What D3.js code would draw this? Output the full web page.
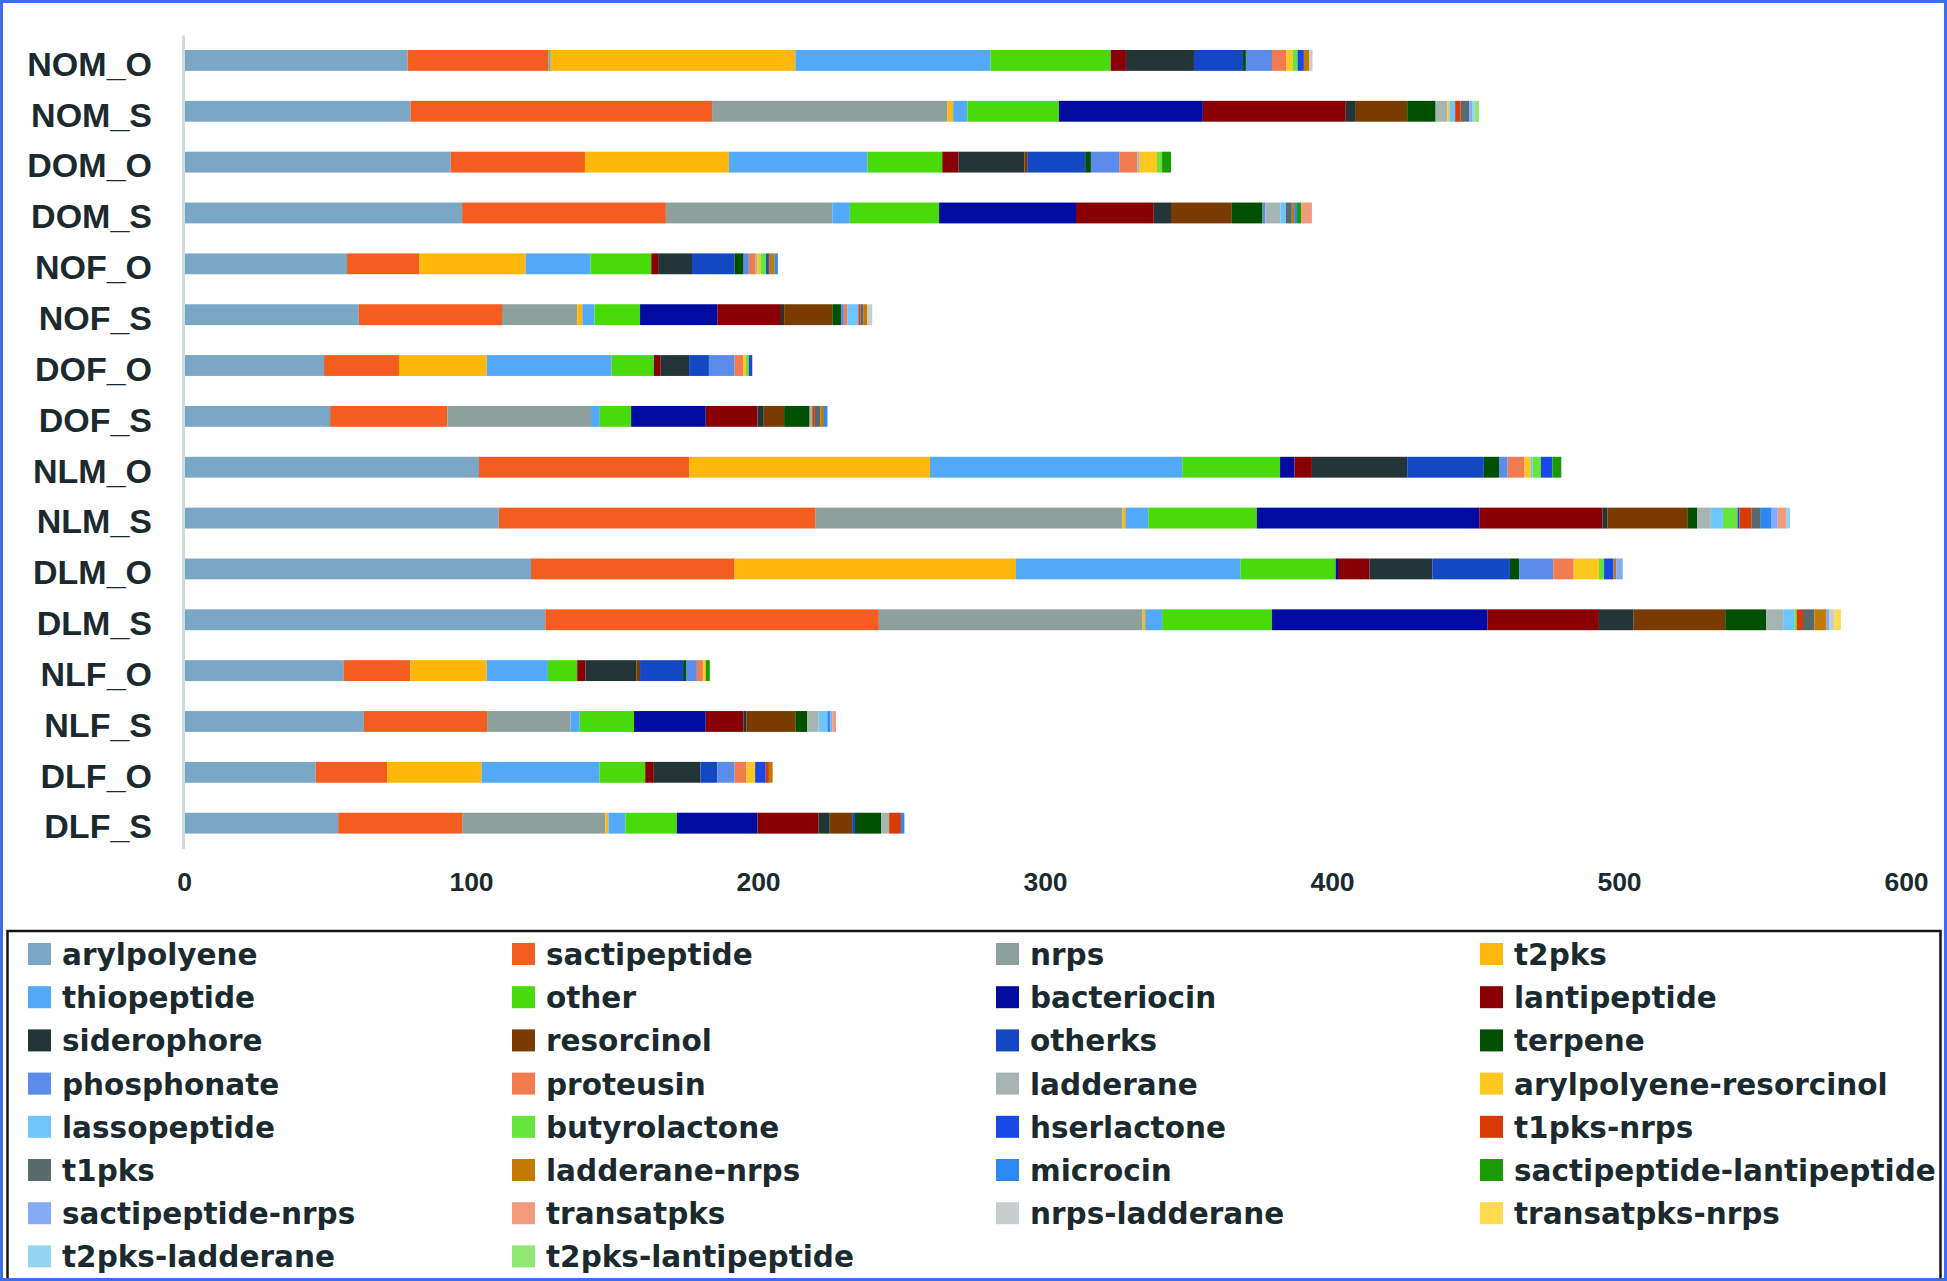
<!DOCTYPE html>
<html>
<head>
<meta charset="utf-8">
<script src="https://cdn.jsdelivr.net/npm/d3@7"></script>
<style>
  html, body { margin: 0; padding: 0; background: #ffffff; }
  svg { display: block; }
</style>
</head>
<body>
<svg id="chart" width="1947" height="1281"></svg>
<script>
// ---------------- DATA ----------------
const categories = ["NOM_O","NOM_S","DOM_O","DOM_S","NOF_O","NOF_S","DOF_O","DOF_S",
                    "NLM_O","NLM_S","DLM_O","DLM_S","NLF_O","NLF_S","DLF_O","DLF_S"];

const seriesNames = ["arylpolyene","sactipeptide","nrps","t2pks","thiopeptide","other","bacteriocin",
  "lantipeptide","siderophore","resorcinol","otherks","terpene","phosphonate","proteusin","ladderane",
  "arylpolyene-resorcinol","lassopeptide","butyrolactone","hserlactone","t1pks-nrps","t1pks",
  "ladderane-nrps","microcin","sactipeptide-lantipeptide","sactipeptide-nrps","transatpks",
  "nrps-ladderane","transatpks-nrps","t2pks-ladderane","t2pks-lantipeptide"];

const seriesColors = ["#7ba7c6","#f45d20","#8ea09c","#ffb70c","#52a9f8","#48da0a","#000ca0",
  "#880003","#243538","#7a3b00","#1347c3","#005000","#5b8cec","#f27b4f","#a6b5b2",
  "#ffc81f","#6dc5fb","#68e43c","#1848e8","#d93a06","#596a6c",
  "#c27a02","#2c88f2","#1b9b06","#85abf7","#f29a7c",
  "#c6cfcd","#ffd94e","#93d5f3","#8fe873"];

const arylpolyene   = [77.9, 78.9, 92.9, 96.9, 56.8, 60.9, 48.8, 50.9, 102.8, 109.7, 120.9, 125.9, 55.7, 62.7, 45.9, 53.7];
const sactipeptide  = [49.0, 105.1, 46.8, 71.0, 25.1, 49.9, 26.1, 40.9, 73.2, 110.4, 70.9, 116.2, 23.1, 42.9, 24.9, 43.2];
const nrps          = [0.9, 82.0, 0, 58.0, 0, 26.2, 0, 50.0, 0, 106.8, 0, 91.9, 0, 29.1, 0, 49.9];
const t2pks         = [85.2, 2.0, 50.2, 0, 37.1, 1.8, 30.6, 0, 83.9, 1.1, 98.1, 0.9, 26.7, 0, 32.9, 1.1];
const thiopeptide   = [68.0, 5.0, 48.2, 6.1, 22.6, 4.2, 43.5, 3.1, 87.9, 8.0, 78.3, 5.9, 21.3, 3.2, 41.1, 5.9];
const other         = [41.9, 31.8, 26.1, 31.1, 21.2, 15.9, 14.7, 10.9, 34.1, 37.8, 33.1, 38.3, 10.2, 18.9, 15.9, 17.9];
const bacteriocin   = [0, 50.2, 0, 47.7, 0, 26.9, 0, 26.0, 5.0, 77.5, 0.8, 75.1, 0, 25.0, 0, 28.1];
const lantipeptide  = [5.3, 49.8, 5.7, 27.1, 2.4, 22.2, 2.4, 18.0, 6.1, 42.9, 11.0, 38.8, 2.9, 13.2, 3.0, 21.2];
const siderophore   = [23.7, 3.5, 22.9, 6.0, 11.8, 1.1, 9.9, 2.2, 33.2, 1.8, 21.9, 12.1, 17.8, 0.9, 16.2, 4.0];
const resorcinol    = [0, 17.9, 1.0, 21.2, 0, 16.8, 0, 7.1, 0, 28.0, 0, 31.9, 1.2, 17.1, 0, 7.8];
const otherks       = [17.1, 0, 20.2, 0, 14.8, 0, 6.9, 0, 26.7, 0, 27.0, 0, 15.0, 0, 5.9, 1.0];
const terpene       = [1.0, 9.9, 2.0, 10.7, 3.2, 3.0, 0, 8.9, 5.3, 3.2, 3.2, 14.3, 1.0, 4.1, 0, 9.1];
const phosphonate   = [9.1, 0, 10.0, 1.0, 1.8, 1.0, 8.9, 0, 3.0, 0, 11.9, 0, 3.8, 0, 6.0, 0];
const proteusin     = [5.0, 0, 6.2, 0, 2.2, 1.2, 3.1, 0, 5.9, 0, 7.1, 0, 2.1, 0, 4.1, 0];
const ladderane     = [0, 4.1, 0.8, 5.2, 0.7, 0, 0, 0.9, 0, 4.8, 0, 5.9, 0, 4.0, 0, 2.8];
const arylpolyeneResorcinol = [2.2, 0.7, 6.0, 0, 1.2, 0, 0.9, 0, 2.1, 0, 8.8, 0, 1.0, 0, 3.1, 0];
const lassopeptide  = [0, 2.0, 0, 1.9, 0, 3.9, 0, 0, 0.7, 4.2, 0, 3.9, 0, 3.1, 0, 0];
const butyrolactone = [1.7, 0, 1.8, 0, 1.9, 0, 1.0, 0, 2.9, 5.1, 1.8, 0.8, 0, 0, 0, 0];
const hserlactone   = [2.2, 0, 0, 0, 1.0, 0, 1.2, 0, 4.0, 0.7, 3.3, 0, 0, 0, 3.7, 0];
const t1pksNrps     = [0, 1.9, 0, 0, 0, 0.7, 0, 0.9, 0, 4.1, 0, 2.2, 0, 0, 1.1, 4.1];
const t1pks         = [0, 3.0, 0, 2.1, 0, 1.1, 0, 2.0, 0, 3.3, 0, 4.0, 0, 0, 0, 0];
const ladderaneNrps = [1.9, 0, 0, 0.8, 2.0, 1.2, 0, 1.2, 0, 0, 0.9, 4.0, 0, 0, 1.3, 0];
const microcin      = [0, 0, 0, 1.0, 1.1, 0, 0, 1.2, 0, 3.8, 0, 0, 0, 1.0, 0, 1.2];
const sactipeptideLantipeptide = [0, 0, 3.1, 1.4, 0, 0, 0, 0, 3.1, 0, 0, 0, 1.4, 0, 0, 0];
const sactipeptideNrps = [0, 1.0, 0, 0, 0, 0, 0, 0, 0, 2.1, 2.3, 1.1, 0, 0.8, 0, 0];
const transatpks    = [0, 0, 0, 3.8, 0, 0, 0, 0, 0, 2.9, 0, 0, 0, 1.2, 0, 0];
const nrpsLadderane = [1.1, 0, 0, 0, 0, 1.8, 0, 0, 0, 0, 0, 1.8, 0, 0, 0, 0];
const transatpksNrps = [0, 0, 0, 0, 0, 0, 0, 0, 0, 0, 0, 2.3, 0, 0, 0, 0];
const t2pksLadderane = [0, 0.8, 0, 0, 0, 0, 0, 0, 0, 1.4, 0, 0, 0, 0, 0, 0];
const t2pksLantipeptide = [0, 1.6, 0, 0, 0, 0, 0, 0, 0, 0, 0, 0, 0, 0, 0, 0];

const xTicks = [0, 100, 200, 300, 400, 500, 600];

const seriesValues = [arylpolyene, sactipeptide, nrps, t2pks, thiopeptide, other, bacteriocin,
  lantipeptide, siderophore, resorcinol, otherks, terpene, phosphonate, proteusin, ladderane,
  arylpolyeneResorcinol, lassopeptide, butyrolactone, hserlactone, t1pksNrps, t1pks,
  ladderaneNrps, microcin, sactipeptideLantipeptide, sactipeptideNrps, transatpks,
  nrpsLadderane, transatpksNrps, t2pksLadderane, t2pksLantipeptide];

// table for d3.stack
const table = categories.map((c, i) => {
  const row = { category: c };
  seriesNames.forEach((s, j) => { row[s] = seriesValues[j][i]; });
  return row;
});

// ---------------- LAYOUT ----------------
const W = 1947, H = 1281;
const svg = d3.select("#chart");
const textColor = "#1b2a2f";

svg.append("rect").attr("x", 0).attr("y", 0).attr("width", W).attr("height", H).attr("fill", "#ffffff");

const x = d3.scaleLinear().domain([0, 600]).range([184, 1906]);
const y = d3.scaleBand().domain(categories).range([35, 848.6]).paddingInner(0.59).paddingOuter(0.295);

const stack = d3.stack().keys(seriesNames);
const stacked = stack(table);

const color = d3.scaleOrdinal().domain(seriesNames).range(seriesColors);

svg.append("g").selectAll("g")
  .data(stacked)
  .join("g")
  .attr("fill", d => color(d.key))
  .selectAll("rect")
  .data(d => d)
  .join("rect")
  .attr("x", d => x(d[0]))
  .attr("y", d => y(d.data.category))
  .attr("width", d => Math.max(0, x(d[1]) - x(d[0])))
  .attr("height", y.bandwidth());

// Y axis
const yAxis = svg.append("g")
  .attr("transform", "translate(183,0)")
  .call(d3.axisLeft(y).tickSize(0).tickSizeOuter(0).tickPadding(31));
yAxis.select(".domain").attr("stroke", "#cfdbdd").attr("stroke-width", 3);
yAxis.selectAll("text")
  .attr("fill", textColor)
  .attr("dy", "0.45em")
  .style("font-family", "'Liberation Sans', Arial, sans-serif")
  .style("font-weight", "bold")
  .style("font-size", "34px");

// X axis
const xAxis = svg.append("g")
  .attr("transform", "translate(0,848.6)")
  .call(d3.axisBottom(x).tickValues(xTicks).tickSize(0).tickSizeOuter(0).tickPadding(23.5).tickFormat(d3.format("d")));
xAxis.select(".domain").remove();
xAxis.selectAll("text")
  .attr("fill", textColor)
  .style("font-family", "'Liberation Sans', Arial, sans-serif")
  .style("font-weight", "bold")
  .style("font-size", "26.5px");

// Legend
svg.append("rect")
  .attr("x", 7.5).attr("y", 931).attr("width", 1933).attr("height", 350)
  .attr("fill", "none").attr("stroke", "#151515").attr("stroke-width", 2.5);

const colX = [28, 512, 996, 1480];
const rowY0 = 954, rowStep = 43.2;
const legend = svg.append("g").selectAll("g")
  .data(seriesNames)
  .join("g")
  .attr("transform", (d, i) => `translate(${colX[i % 4]},${rowY0 + Math.floor(i / 4) * rowStep})`);
legend.append("rect")
  .attr("x", 0).attr("y", -11).attr("width", 23).attr("height", 22)
  .attr("fill", d => color(d));
legend.append("text")
  .attr("x", 34).attr("y", 11)
  .attr("fill", textColor)
  .style("font-family", "'DejaVu Sans', sans-serif")
  .style("font-weight", "bold")
  .style("font-size", "29.5px")
  .text(d => d);

// Outer border
svg.append("rect")
  .attr("x", 1.5).attr("y", 1.5).attr("width", W - 3).attr("height", H - 3)
  .attr("fill", "none").attr("stroke", "#3b6fe8").attr("stroke-width", 3);
</script>
</body>
</html>
